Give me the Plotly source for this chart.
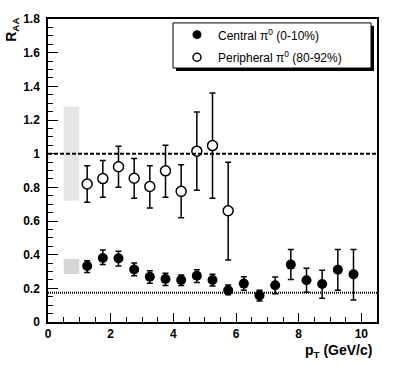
import plotly.graph_objects as go

# ---------------- data ----------------
pt_central = [1.25, 1.75, 2.25, 2.75, 3.25, 3.75, 4.25, 4.75, 5.25,
              5.75, 6.25, 6.75, 7.25, 7.75, 8.25, 8.75, 9.25, 9.75]
raa_central = [0.333, 0.380, 0.378, 0.312, 0.269, 0.255, 0.250, 0.275, 0.250,
               0.189, 0.228, 0.158, 0.218, 0.341, 0.248, 0.226, 0.310, 0.283]
err_central_plus = [0.031, 0.047, 0.043, 0.039, 0.035, 0.035, 0.029, 0.035, 0.034,
                    0.031, 0.041, 0.031, 0.049, 0.089, 0.071, 0.082, 0.120, 0.147]
err_central_minus = [0.039, 0.039, 0.045, 0.037, 0.039, 0.038, 0.033, 0.041, 0.036,
                     0.027, 0.040, 0.033, 0.050, 0.089, 0.072, 0.085, 0.122, 0.152]

pt_periph = [1.25, 1.75, 2.25, 2.75, 3.25, 3.75, 4.25, 4.75, 5.25, 5.75]
raa_periph = [0.820, 0.852, 0.922, 0.854, 0.805, 0.898, 0.776, 1.015, 1.048, 0.661]
err_periph_plus = [0.108, 0.108, 0.122, 0.118, 0.123, 0.152, 0.158, 0.233, 0.312, 0.288]
err_periph_minus = [0.108, 0.111, 0.122, 0.119, 0.128, 0.157, 0.156, 0.233, 0.313, 0.293]

# systematic (normalisation) boxes
sys_box_x = [0.5, 1.0]
sys_central = [0.285, 0.375]
sys_periph = [0.72, 1.28]

ref_unity = 1.0
ref_ncoll = 0.174

x_ticks = [0, 2, 4, 6, 8, 10]
y_ticks = [0, 0.2, 0.4, 0.6, 0.8, 1.0, 1.2, 1.4, 1.6, 1.8]
y_tick_labels = ["0", "0.2", "0.4", "0.6", "0.8", "1", "1.2", "1.4", "1.6", "1.8"]

legend_labels = ["Central \u03c0<sup>0</sup> (0-10%)", "Peripheral \u03c0<sup>0</sup> (80-92%)"]

FONT = "Liberation Sans, Arial, Helvetica, sans-serif"

W, H = 396, 368
ML, MR, MT, MB = 48, 19, 13, 46
PW, PH = W - ML - MR, H - MT - MB


def px(x):
    return (x - ML) / PW


def py(y):
    return (H - MB - y) / PH


fig = go.Figure()

# systematic boxes
fig.add_shape(type="rect", xref="x", yref="y", x0=sys_box_x[0], x1=sys_box_x[1],
              y0=sys_periph[0], y1=sys_periph[1], fillcolor="#e5e5e5",
              line=dict(width=0), layer="below")
fig.add_shape(type="rect", xref="x", yref="y", x0=sys_box_x[0], x1=sys_box_x[1],
              y0=sys_central[0], y1=sys_central[1], fillcolor="#d6d6d6",
              line=dict(width=0), layer="below")

# reference lines
fig.add_shape(type="line", xref="paper", yref="y", x0=0, x1=1, y0=ref_unity, y1=ref_unity,
              line=dict(color="black", width=2, dash="4px,2px"))
fig.add_shape(type="line", xref="paper", yref="y", x0=0, x1=1, y0=ref_ncoll, y1=ref_ncoll,
              line=dict(color="black", width=2, dash="1px,1px"))

fig.add_trace(go.Scatter(
    x=pt_periph, y=raa_periph, mode="markers", name=legend_labels[1],
    marker=dict(symbol="circle", size=10, color="white", line=dict(color="black", width=1.5)),
    error_y=dict(type="data", symmetric=False, array=err_periph_plus,
                 arrayminus=err_periph_minus, color="black", thickness=1.5, width=3),
    showlegend=False))

fig.add_trace(go.Scatter(
    x=pt_central, y=raa_central, mode="markers", name=legend_labels[0],
    marker=dict(symbol="circle", size=10, color="black", line=dict(color="black", width=0)),
    error_y=dict(type="data", symmetric=False, array=err_central_plus,
                 arrayminus=err_central_minus, color="black", thickness=1.5, width=3),
    showlegend=False))

# ---- legend box (ROOT style with shadow) ----
lx0, lx1, ly0, ly1 = 173, 371, 17, 63
fig.add_shape(type="rect", xref="paper", yref="paper",
              x0=px(lx0 + 3), x1=px(lx1 + 3), y0=py(ly0 + 3), y1=py(ly1 + 3),
              fillcolor="black", line=dict(width=0))
fig.add_shape(type="rect", xref="paper", yref="paper",
              x0=px(lx0), x1=px(lx1), y0=py(ly0), y1=py(ly1),
              fillcolor="white", line=dict(color="black", width=1))
rows = [29, 52]
fig.add_shape(type="circle", xref="paper", yref="paper",
              x0=px(197 - 4.5), x1=px(197 + 4.5), y0=py(rows[0] - 4.5), y1=py(rows[0] + 4.5),
              fillcolor="black", line=dict(color="black", width=0))
fig.add_shape(type="circle", xref="paper", yref="paper",
              x0=px(197 - 4), x1=px(197 + 4), y0=py(rows[1] - 4), y1=py(rows[1] + 4),
              fillcolor="white", line=dict(color="black", width=1.5))
for lab, r in zip(legend_labels, rows):
    fig.add_annotation(xref="paper", yref="paper", x=px(216), y=py(r), text=lab,
                       showarrow=False, xanchor="left", yanchor="middle",
                       font=dict(family=FONT, size=12, color="black"))

# axis titles
fig.add_annotation(xref="paper", yref="paper", x=px(374), y=py(352),
                   text="<b>p<sub>T</sub> (GeV/c)</b>", showarrow=False,
                   xanchor="right", yanchor="middle",
                   font=dict(family=FONT, size=14, color="black"))
fig.add_annotation(xref="paper", yref="paper", x=px(12), y=py(24),
                   text="<b>R<sub>AA</sub></b>", showarrow=False, textangle=-90,
                   xanchor="center", yanchor="middle",
                   font=dict(family=FONT, size=14, color="black"))

fig.update_layout(
    width=W, height=H,
    margin=dict(l=ML, r=MR, t=MT, b=MB, pad=0),
    paper_bgcolor="white", plot_bgcolor="white",
    font=dict(family=FONT, color="black"),
    showlegend=False,
)
fig.update_xaxes(
    range=[0, 10.5], showgrid=False, zeroline=False,
    showline=True, linecolor="black", linewidth=1.5, mirror=True,
    tickmode="array", tickvals=x_ticks, ticktext=["<b>%d</b>" % v for v in x_ticks],
    ticks="inside", ticklen=9, tickwidth=1, tickcolor="black",
    minor=dict(dtick=0.5, ticks="inside", ticklen=5, tickwidth=1, tickcolor="black"),
    tickfont=dict(family=FONT, size=12, color="black"),
    ticklabelstandoff=0,
)
fig.update_yaxes(
    range=[0, 1.8], showgrid=False, zeroline=False,
    showline=True, linecolor="black", linewidth=1.5, mirror=True,
    tickmode="array", tickvals=y_ticks, ticktext=["<b>%s</b>" % t for t in y_tick_labels],
    ticks="inside", ticklen=10, tickwidth=1, tickcolor="black",
    minor=dict(dtick=0.05, tick0=0, ticks="inside", ticklen=5, tickwidth=1, tickcolor="black"),
    tickfont=dict(family=FONT, size=12, color="black"),
    ticklabelstandoff=4,
)

fig.write_html("out.html", config={"displayModeBar": False},
               post_script="document.body.style.margin='0';")
